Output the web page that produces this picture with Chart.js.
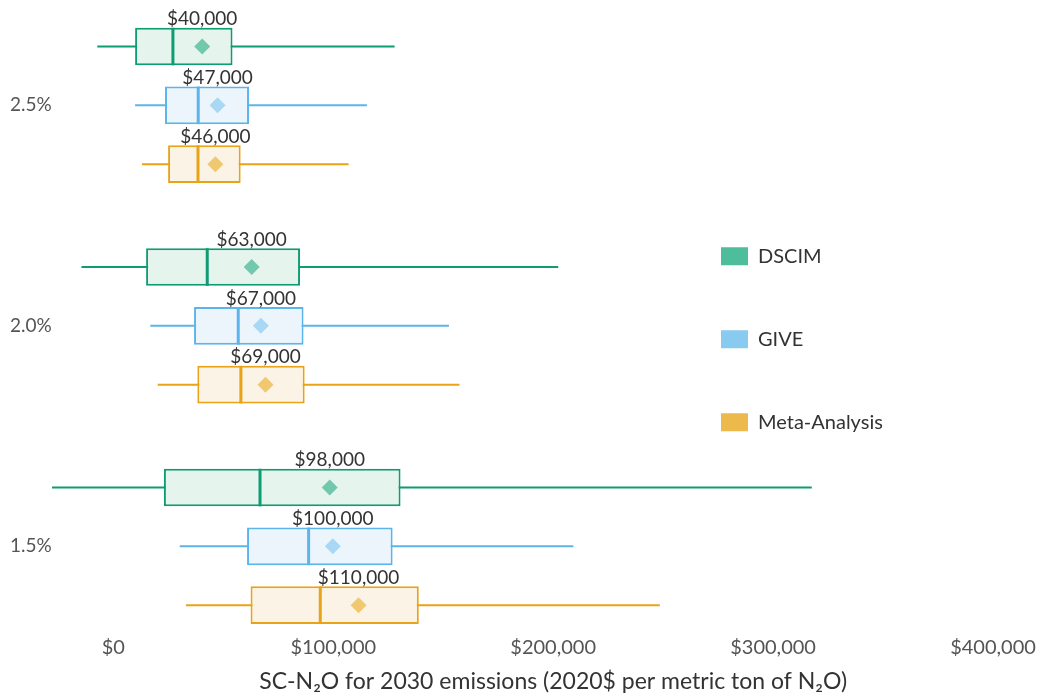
<!DOCTYPE html>
<html>
<head>
<meta charset="utf-8">
<script src="https://cdn.jsdelivr.net/npm/chart.js@4"></script>
<style>
  html, body { margin: 0; padding: 0; background: #fff; overflow: hidden; }
  #wrap { width: 1046px; height: 705px; margin-top: -5px; }
</style>
</head>
<body>
<div id="wrap"><canvas id="chart"></canvas></div>
<script>
// discount rates (top to bottom) and models (top to bottom inside a group)
const rates = ["2.5%", "2.0%", "1.5%"];
const models = ["DSCIM", "GIVE", "Meta-Analysis"];
const xTicks = [0, 100000, 200000, 300000, 400000];

// one value per discount rate: 2.5%, 2.0%, 1.5%
const dscimLow = [-7300, -14500, -27900];
const dscimQ1 = [9900, 14900, 23000];
const dscimMedian = [27100, 42700, 66700];
const dscimQ3 = [54200, 84900, 130600];
const dscimHigh = [127900, 202300, 317600];
const dscimMean = [40400, 62900, 98400];

const giveLow = [9900, 16800, 30200];
const giveQ1 = [23500, 36700, 60800];
const giveMedian = [38600, 56800, 88800];
const giveQ3 = [61700, 86500, 127000];
const giveHigh = [115300, 152600, 209200];
const giveMean = [47400, 67100, 99800];

const metaLow = [13000, 20200, 33000];
const metaQ1 = [24900, 38200, 62400];
const metaMedian = [38500, 58000, 94100];
const metaQ3 = [57900, 87000, 138900];
const metaHigh = [107000, 157400, 248500];
const metaMean = [46400, 69200, 111500];

const lows = [dscimLow, giveLow, metaLow];
const q1s = [dscimQ1, giveQ1, metaQ1];
const medians = [dscimMedian, giveMedian, metaMedian];
const q3s = [dscimQ3, giveQ3, metaQ3];
const highs = [dscimHigh, giveHigh, metaHigh];
const means = [dscimMean, giveMean, metaMean];

const lineColors = ["#0e9c73", "#5cb5ea", "#e9a317"];
const fillColors = ["#e6f4ee", "#edf5fc", "#fbf3e5"];
const meanColors = ["#72c8ad", "#a9d8f4", "#f0c872"];
const legendColors = ["#4dbd9b", "#88caf0", "#ecb94c"];

const fontFamily = "Lato, 'Open Sans', sans-serif";

const money = (v) => "$" + Number(v).toLocaleString("en-US");
const roundMoney = (v) => money(Number(Number(v).toPrecision(2)));

const boxPlotExtras = {
  id: "boxPlotExtras",
  afterLayout(chart) {
    // legend sits inside the plot, to the right of the boxes
    const legend = chart.legend;
    const area = chart.chartArea;
    legend.left = 658;
    legend.right = legend.left + legend.width;
    legend.top = area.top + 13.5;
    legend.bottom = area.bottom + 13.5;
    // axis title is centred under the $0 - $400,000 span
    const xScale = chart.scales.x;
    chart.titleBlock.left = xScale.getPixelForValue(xTicks[0]);
    chart.titleBlock.right = xScale.getPixelForValue(xTicks[xTicks.length - 1]);
  },
  beforeDatasetsDraw(chart) {
    const ctx = chart.ctx;
    const xScale = chart.scales.x;
    ctx.save();
    models.forEach((m, i) => {
      chart.getDatasetMeta(i).data.forEach((bar, j) => {
        ctx.beginPath();
        ctx.strokeStyle = lineColors[i];
        ctx.lineWidth = 2;
        ctx.moveTo(xScale.getPixelForValue(lows[i][j]), bar.y);
        ctx.lineTo(xScale.getPixelForValue(highs[i][j]), bar.y);
        ctx.stroke();
      });
    });
    ctx.restore();
  },
  afterDatasetsDraw(chart) {
    const ctx = chart.ctx;
    const xScale = chart.scales.x;
    ctx.save();
    models.forEach((m, i) => {
      chart.getDatasetMeta(i).data.forEach((bar, j) => {
        const y = bar.y;
        const h = bar.height;
        // median
        const mx = xScale.getPixelForValue(medians[i][j]);
        ctx.beginPath();
        ctx.strokeStyle = lineColors[i];
        ctx.lineWidth = 3;
        ctx.moveTo(mx, y - h / 2);
        ctx.lineTo(mx, y + h / 2);
        ctx.stroke();
        // mean diamond
        const ax = xScale.getPixelForValue(means[i][j]);
        const r = 8;
        ctx.beginPath();
        ctx.fillStyle = meanColors[i];
        ctx.moveTo(ax, y - r);
        ctx.lineTo(ax + r, y);
        ctx.lineTo(ax, y + r);
        ctx.lineTo(ax - r, y);
        ctx.closePath();
        ctx.fill();
        // mean label
        ctx.fillStyle = "#333";
        ctx.font = "19px " + fontFamily;
        ctx.textAlign = "center";
        ctx.textBaseline = "alphabetic";
        ctx.fillText(roundMoney(means[i][j]), ax, y - h / 2 - 2.5);
      });
    });
    ctx.restore();
  },
};

const datasets = models.map((m, i) => ({
  label: m,
  data: rates.map((r, j) => [q1s[i][j], q3s[i][j]]),
  backgroundColor: fillColors[i],
  borderColor: lineColors[i],
  borderWidth: 2,
  borderSkipped: false,
  categoryPercentage: 0.8,
  barPercentage: 0.64,
}));

const chart = new Chart(document.getElementById("chart"), {
  type: "bar",
  data: { labels: rates, datasets: datasets },
  plugins: [boxPlotExtras],
  options: {
    indexAxis: "y",
    responsive: true,
    maintainAspectRatio: false,
    animation: false,
    layout: { padding: { top: 0, right: 53, bottom: 0, left: 10 } },
    scales: {
      x: {
        type: "linear",
        min: -28000,
        max: 400000,
        afterBuildTicks: (scale) => {
          scale.ticks = xTicks.map((v) => ({ value: v }));
        },
        ticks: {
          callback: (value) => money(value),
          font: { family: fontFamily, size: 20 },
          color: "#555",
          mirror: true,
          padding: -3.4,
          maxRotation: 0,
          autoSkip: false,
        },
        grid: { display: false, drawTicks: false },
        border: { display: false },
      },
      y: {
        type: "category",
        ticks: {
          font: { family: fontFamily, size: 19, lineHeight: 0.01 },
          color: "#555",
          padding: 0,
        },
        grid: { display: false, drawTicks: false },
        border: { display: false },
      },
    },
    plugins: {
      tooltip: { enabled: false },
      title: {
        display: true,
        position: "bottom",
        text: "SC-N₂O for 2030 emissions (2020$ per metric ton of N₂O)",
        font: { family: fontFamily, size: 23, weight: "normal", lineHeight: 1 },
        color: "#333",
        padding: { top: 20.4, bottom: 0 },
      },
      legend: {
        position: "chartArea",
        labels: {
          boxWidth: 27,
          boxHeight: 18,
          padding: 63,
          color: "#333",
          font: { family: fontFamily, size: 20 },
          generateLabels: () =>
            models.map((m, i) => ({
              text: m,
              fillStyle: legendColors[i],
              strokeStyle: legendColors[i],
              lineWidth: 0,
              hidden: false,
              datasetIndex: i,
              fontColor: "#333",
            })),
        },
      },
    },
  },
});
</script>
</body>
</html>
